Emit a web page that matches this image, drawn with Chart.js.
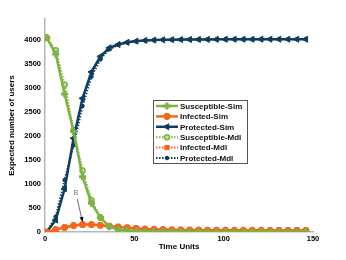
<!DOCTYPE html>
<html>
<head>
<meta charset="utf-8">
<script src="https://cdn.jsdelivr.net/npm/chart.js@4/dist/chart.umd.min.js"></script>
<style>
  html, body { margin: 0; padding: 0; background: #fff; }
  #wrap { width: 346px; height: 260px; }
</style>
</head>
<body>
<div id="wrap"><canvas id="epiCanvas" width="346" height="260"></canvas></div>
<script>
// data
const timeUnits = [1, 6, 11, 16, 21, 26, 31, 36, 41, 46, 51, 56, 61, 66, 71, 76, 81, 86, 91, 96, 101, 106, 111, 116, 121, 126, 131, 136, 141, 146];
const susceptibleSim = [4040, 3700, 2870, 2090, 1150, 600, 300, 110, 50, 25, 15, 10, 8, 6, 5, 4, 3, 3, 2, 2, 2, 1, 1, 1, 1, 1, 1, 1, 1, 1];
const infectedSim = [0, 50, 95, 135, 155, 155, 140, 120, 105, 90, 75, 62, 55, 50, 46, 43, 41, 40, 38, 37, 36, 35, 35, 34, 34, 33, 33, 33, 33, 33];
const protectedSim = [0, 250, 900, 1950, 2780, 3330, 3650, 3830, 3900, 3945, 3970, 3985, 3992, 3997, 4000, 4002, 4004, 4005, 4006, 4007, 4008, 4008, 4009, 4009, 4010, 4010, 4010, 4010, 4010, 4010];
const susceptibleMdl = [4040, 3780, 3060, 2120, 1280, 660, 300, 120, 55, 28, 16, 11, 8, 6, 5, 4, 3, 3, 2, 2, 2, 1, 1, 1, 1, 1, 1, 1, 1, 1];
const infectedMdl = [0, 45, 90, 130, 150, 150, 138, 120, 102, 88, 74, 62, 54, 49, 45, 42, 40, 39, 37, 36, 35, 35, 34, 34, 33, 33, 33, 33, 33, 33];
const protectedMdl = [0, 320, 1080, 1800, 2620, 3230, 3590, 3800, 3890, 3940, 3965, 3980, 3990, 3995, 3998, 4000, 4002, 4004, 4005, 4006, 4007, 4008, 4008, 4009, 4009, 4010, 4010, 4010, 4010, 4010];
const yTickValues = [0, 500, 1000, 1500, 2000, 2500, 3000, 3500, 4000];
const xTickValues = [0, 50, 100, 150];

const GREEN = '#7cb342';
const ORANGE = '#f4661b';
const NAVY = '#0e3d5f';
const FONT = '"Liberation Sans", Arial, sans-serif';

function pts(values) {
    return values.map((v, i) => ({ x: timeUnits[i], y: v }));
}

const seriesDefs = [
    { label: 'Susceptible-Sim', data: susceptibleSim, color: GREEN, dash: [], style: 'cross', radius: 3.5, pw: 3, fill: GREEN, rot: 0, lw: 2.5 },
    { label: 'Infected-Sim', data: infectedSim, color: ORANGE, dash: [], style: 'star', radius: 3.5, pw: 2.5, fill: ORANGE, rot: 0, lw: 2.5 },
    { label: 'Protected-Sim', data: protectedSim, color: NAVY, dash: [], style: 'triangle', radius: 3.5, pw: 1, fill: NAVY, rot: -90, lw: 2.5 },
    { label: 'Susceptible-Mdl', data: susceptibleMdl, color: GREEN, dash: [1.5, 1.5], style: 'circle', radius: 2.5, pw: 1.5, fill: '#c5e1a5', rot: 0, lw: 2 },
    { label: 'Infected-Mdl', data: infectedMdl, color: ORANGE, dash: [1.5, 1.5], style: 'rect', radius: 3, pw: 1, fill: ORANGE, rot: 0, lw: 2 },
    { label: 'Protected-Mdl', data: protectedMdl, color: NAVY, dash: [1.5, 1.5], style: 'circle', radius: 1.8, pw: 1, fill: NAVY, rot: 0, lw: 2 }
];

// legend drawn inside the plot area
const boxLegend = {
    id: 'boxLegend',
    afterDraw(chart) {
        const ctx = chart.ctx;
        const x0 = 153, y0 = 100, w = 94, h = 63;
        ctx.save();
        ctx.fillStyle = '#fff';
        ctx.fillRect(x0, y0, w, h);
        ctx.strokeStyle = '#555';
        ctx.lineWidth = 1;
        ctx.strokeRect(x0 + 0.5, y0 + 0.5, w, h);
        ctx.font = 'bold 8px ' + FONT;
        ctx.textBaseline = 'middle';
        seriesDefs.forEach((s, i) => {
            const yy = y0 + 6 + i * 10.4;
            ctx.strokeStyle = s.color;
            ctx.lineWidth = s.lw;
            ctx.setLineDash(s.dash);
            ctx.beginPath();
            ctx.moveTo(x0 + 3, yy);
            ctx.lineTo(x0 + 25, yy);
            ctx.stroke();
            ctx.setLineDash([]);
            ctx.fillStyle = s.fill;
            ctx.strokeStyle = s.color;
            ctx.lineWidth = s.pw;
            Chart.helpers.drawPoint(ctx, { pointStyle: s.style, radius: s.radius, rotation: s.rot, borderWidth: s.pw }, x0 + 14, yy);
            ctx.fillStyle = '#111';
            ctx.fillText(s.label, x0 + 27, yy + 0.5);
        });
        ctx.restore();
    }
};

// "B" label with arrow pointing at the infected peak
const peakNote = {
    id: 'peakNote',
    afterDatasetsDraw(chart) {
        const xs = chart.scales.x, ys = chart.scales.y, ctx = chart.ctx;
        const tx = xs.getPixelForValue(17.3), ty = ys.getPixelForValue(800);
        const x1 = xs.getPixelForValue(18), y1 = ys.getPixelForValue(690);
        const x2 = xs.getPixelForValue(21), y2 = ys.getPixelForValue(215);
        ctx.save();
        ctx.font = '7px ' + FONT;
        ctx.fillStyle = '#777';
        ctx.textAlign = 'center';
        ctx.textBaseline = 'middle';
        ctx.fillText('B', tx, ty);
        ctx.strokeStyle = '#444';
        ctx.lineWidth = 0.8;
        ctx.beginPath();
        ctx.moveTo(x1, y1);
        ctx.lineTo(x2, y2);
        ctx.stroke();
        const ang = Math.atan2(y2 - y1, x2 - x1);
        ctx.fillStyle = '#000';
        ctx.beginPath();
        ctx.moveTo(x2, y2);
        ctx.lineTo(x2 - 5 * Math.cos(ang - 0.4), y2 - 5 * Math.sin(ang - 0.4));
        ctx.lineTo(x2 - 5 * Math.cos(ang + 0.4), y2 - 5 * Math.sin(ang + 0.4));
        ctx.closePath();
        ctx.fill();
        ctx.restore();
    }
};

new Chart(document.getElementById('epiCanvas').getContext('2d'), {
    type: 'line',
    data: {
        datasets: seriesDefs.map(s => ({
            label: s.label,
            data: pts(s.data),
            borderColor: s.color,
            borderWidth: s.lw,
            borderDash: s.dash,
            backgroundColor: s.fill,
            pointStyle: s.style,
            pointRadius: s.radius,
            pointRotation: s.rot,
            pointBorderWidth: s.pw,
            pointBackgroundColor: s.fill,
            pointBorderColor: s.color,
            tension: 0,
            fill: false
        }))
    },
    options: {
        responsive: false,
        animation: false,
        layout: { padding: { top: 19, right: 33, left: 0, bottom: 0 } },
        plugins: { legend: { display: false }, tooltip: { enabled: false } },
        scales: {
            x: {
                type: 'linear', min: 0, max: 150,
                afterBuildTicks: (s) => { s.ticks = xTickValues.map(v => ({ value: v })); },
                afterFit: (s) => { s.height = 28; },
                grid: { display: false, drawTicks: false },
                border: { display: true, color: '#b5b5b5', width: 1.5 },
                ticks: { color: '#000', padding: 2, font: { family: FONT, size: 7.5, weight: 'bold' }, maxRotation: 0, callback: (v) => String(v) },
                title: { display: true, text: 'Time Units', color: '#000', font: { family: FONT, size: 8, weight: 'bold' }, padding: { top: 0, bottom: 8 } }
            },
            y: {
                min: 0, max: 4430,
                afterBuildTicks: (s) => { s.ticks = yTickValues.map(v => ({ value: v })); },
                afterFit: (s) => { s.width = 45; },
                grid: { display: false, drawTicks: false },
                border: { display: true, color: '#b5b5b5', width: 1.5 },
                ticks: { color: '#000', padding: 4, font: { family: FONT, size: 7.5, weight: 'bold' }, callback: (v) => String(v) },
                title: { display: true, text: 'Expected number of users', color: '#000', font: { family: FONT, size: 8, weight: 'bold' }, padding: { top: 7, bottom: 0 } }
            }
        }
    },
    plugins: [peakNote, boxLegend]
});
</script>
</body>
</html>
